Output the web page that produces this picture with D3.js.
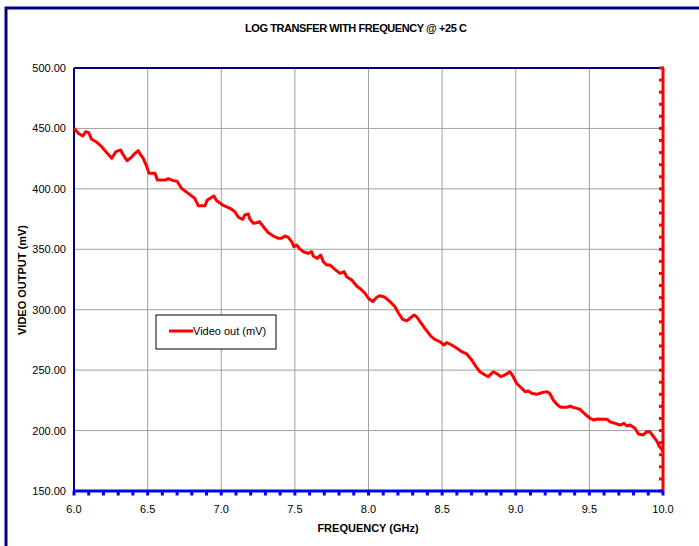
<!DOCTYPE html>
<html>
<head>
<meta charset="utf-8">
<script src="https://cdn.jsdelivr.net/npm/d3@7"></script>
<style>
  body { margin: 0; background: #fff; }
  svg text { font-family: "Liberation Sans", Arial, sans-serif; }
</style>
</head>
<body>
<div id="chart"></div>
<script>
// values
var freqGHz = [6.000, 6.029, 6.059, 6.080, 6.100, 6.120, 6.150, 6.188, 6.222, 6.256,
    6.285, 6.317, 6.335, 6.360, 6.390, 6.414, 6.437, 6.453, 6.470, 6.490,
    6.510, 6.550, 6.566, 6.620, 6.640, 6.674, 6.700, 6.730, 6.776, 6.820,
    6.844, 6.890, 6.905, 6.950, 6.969, 7.010, 7.060, 7.093, 7.116, 7.146,
    7.160, 7.184, 7.195, 7.218, 7.240, 7.260, 7.286, 7.320, 7.354, 7.388,
    7.410, 7.433, 7.455, 7.478, 7.494, 7.512, 7.530, 7.557, 7.590, 7.614,
    7.625, 7.652, 7.675, 7.693, 7.716, 7.738, 7.772, 7.806, 7.834, 7.852,
    7.886, 7.920, 7.954, 7.976, 7.999, 8.029, 8.056, 8.078, 8.112, 8.146,
    8.180, 8.202, 8.232, 8.260, 8.282, 8.310, 8.327, 8.350, 8.377, 8.400,
    8.422, 8.450, 8.486, 8.513, 8.531, 8.565, 8.600, 8.633, 8.667, 8.701,
    8.730, 8.757, 8.791, 8.814, 8.848, 8.875, 8.898, 8.927, 8.960, 8.980,
    9.006, 9.040, 9.063, 9.085, 9.108, 9.142, 9.176, 9.210, 9.230, 9.255,
    9.277, 9.305, 9.345, 9.370, 9.390, 9.414, 9.436, 9.470, 9.504, 9.527,
    9.555, 9.595, 9.622, 9.640, 9.674, 9.708, 9.735, 9.754, 9.776, 9.810,
    9.833, 9.867, 9.890, 9.910, 9.935, 9.958, 9.976, 9.992, 10.000];
var videoOut = [450.1, 446.0, 443.7, 447.3, 446.5, 441.0, 439.0, 434.9, 430.0, 425.3,
    430.8, 432.2, 428.0, 423.3, 426.1, 429.4, 431.6, 428.0, 425.3, 419.7,
    412.9, 412.9, 407.3, 407.3, 408.4, 406.8, 406.3, 400.5, 396.3, 392.2,
    386.1, 386.1, 390.8, 394.1, 390.2, 386.6, 383.9, 381.1, 376.5, 374.8,
    378.4, 379.2, 374.8, 371.5, 372.0, 372.8, 368.7, 363.7, 361.0, 359.1,
    359.1, 361.0, 359.9, 356.3, 352.1, 353.5, 350.8, 348.0, 346.7, 348.0,
    344.4, 342.5, 345.3, 339.8, 337.0, 337.0, 333.4, 330.1, 331.5, 327.3,
    324.6, 319.6, 316.3, 313.6, 309.5, 306.7, 310.3, 311.6, 310.3, 306.7,
    302.5, 297.5, 292.0, 290.9, 292.9, 295.6, 294.2, 290.1, 285.5, 281.8,
    278.3, 275.5, 273.5, 270.8, 272.7, 270.8, 268.1, 265.3, 263.4, 258.4,
    252.9, 248.7, 246.0, 244.6, 248.7, 246.8, 244.6, 246.0, 248.7, 245.2,
    239.1, 235.0, 232.2, 232.7, 230.8, 230.0, 231.3, 232.2, 230.8, 225.3,
    222.0, 219.2, 219.2, 220.3, 219.2, 218.4, 217.6, 213.7, 210.2, 208.8,
    209.6, 209.3, 209.3, 207.3, 206.0, 204.6, 206.0, 203.8, 204.6, 201.9,
    197.2, 196.4, 199.1, 199.1, 195.1, 191.2, 186.7, 184.5, 182.3];

var xTicks = [6.0, 6.5, 7.0, 7.5, 8.0, 8.5, 9.0, 9.5, 10.0];
var yTicks = [150, 200, 250, 300, 350, 400, 450, 500];

var chartTitle = "LOG TRANSFER WITH FREQUENCY @ +25 C";
var xTitle = "FREQUENCY (GHz)";
var yTitle = "VIDEO OUTPUT (mV)";
var seriesName = "Video out (mV)";

var margin = { top: 68, right: 36, bottom: 55, left: 74 };
var totalW = 699, totalH = 546;
var width = totalW - margin.left - margin.right;
var height = totalH - margin.top - margin.bottom;

var svg = d3.select("#chart").append("svg")
    .attr("width", totalW)
    .attr("height", totalH);

// outer frame (runs off the right and bottom of the picture)
svg.append("rect")
    .attr("x", 6).attr("y", 8)
    .attr("width", 900).attr("height", 800)
    .attr("fill", "none")
    .attr("stroke", "#000080")
    .attr("stroke-width", 3);

svg.append("text")
    .attr("x", 356).attr("y", 32)
    .attr("text-anchor", "middle")
    .attr("font-size", "11px")
    .attr("font-weight", "bold")
    .attr("textLength", 222)
    .text(chartTitle);

var g = svg.append("g")
    .attr("transform", "translate(" + margin.left + "," + margin.top + ")");

var x = d3.scaleLinear().domain([6, 10]).range([0, width]);
var y = d3.scaleLinear().domain([150, 500]).range([height, 0]);

// grid
g.append("g").selectAll("line")
    .data(xTicks.slice(1, -1))
    .enter().append("line")
    .attr("x1", d => x(d)).attr("x2", d => x(d))
    .attr("y1", 0).attr("y2", height)
    .attr("stroke", "#a0a0a0").attr("stroke-width", 1);

g.append("g").selectAll("line")
    .data(yTicks.slice(1, -1))
    .enter().append("line")
    .attr("x1", 0).attr("x2", width)
    .attr("y1", d => y(d)).attr("y2", d => y(d))
    .attr("stroke", "#a0a0a0").attr("stroke-width", 1);

// top and left plot border
g.append("line").attr("x1", 0).attr("x2", width).attr("y1", 0).attr("y2", 0)
    .attr("stroke", "#000080").attr("stroke-width", 2);
g.append("line").attr("x1", 0).attr("x2", 0).attr("y1", 0).attr("y2", height)
    .attr("stroke", "#000080").attr("stroke-width", 2);

// data line
var line = d3.line()
    .x((d, i) => x(freqGHz[i]))
    .y(d => y(d));

g.append("path")
    .datum(videoOut)
    .attr("d", line)
    .attr("fill", "none")
    .attr("stroke", "#ff0000")
    .attr("stroke-width", 3)
    .attr("stroke-linejoin", "round");

// red right axis with small square markers every 10 mV
var rightMarks = d3.range(150, 501, 10);
g.append("line").attr("x1", width).attr("x2", width).attr("y1", 0).attr("y2", height)
    .attr("stroke", "#ff0000").attr("stroke-width", 3);
g.append("g").selectAll("rect")
    .data(rightMarks)
    .enter().append("rect")
    .attr("x", width - 4).attr("y", d => y(d) - 1.5)
    .attr("width", 5).attr("height", 3)
    .attr("fill", "#ff0000");

// blue bottom axis with small square markers every 0.1 GHz
var bottomMarks = d3.range(0, 41).map(i => 6 + i * 0.1);
g.append("line").attr("x1", 0).attr("x2", width).attr("y1", height).attr("y2", height)
    .attr("stroke", "#0000ff").attr("stroke-width", 3);
g.append("g").selectAll("rect")
    .data(bottomMarks)
    .enter().append("rect")
    .attr("x", d => x(d) - 1.5).attr("y", height)
    .attr("width", 3).attr("height", 4.5)
    .attr("fill", "#0000ff");

// tick labels
g.append("g").selectAll("text")
    .data(yTicks)
    .enter().append("text")
    .attr("x", -8).attr("y", d => y(d) + 4)
    .attr("text-anchor", "end")
    .attr("font-size", "11px")
    .text(d => d.toFixed(2));

g.append("g").selectAll("text")
    .data(xTicks)
    .enter().append("text")
    .attr("x", d => x(d)).attr("y", height + 22)
    .attr("text-anchor", "middle")
    .attr("font-size", "11px")
    .text(d => d.toFixed(1));

// axis titles
svg.append("text")
    .attr("x", 368).attr("y", 532)
    .attr("text-anchor", "middle")
    .attr("font-size", "11px")
    .attr("font-weight", "bold")
    .text(xTitle);

svg.append("text")
    .attr("transform", "translate(26,280) rotate(-90)")
    .attr("text-anchor", "middle")
    .attr("font-size", "11px")
    .attr("font-weight", "bold")
    .text(yTitle);

// legend
var legend = svg.append("g").attr("transform", "translate(156,315)");
legend.append("rect")
    .attr("width", 120).attr("height", 34)
    .attr("fill", "#fff")
    .attr("stroke", "#000").attr("stroke-width", 1);
legend.append("line")
    .attr("x1", 13).attr("x2", 37).attr("y1", 16).attr("y2", 16)
    .attr("stroke", "#ff0000").attr("stroke-width", 3);
legend.append("text")
    .attr("x", 37).attr("y", 20)
    .attr("font-size", "11px")
    .text(seriesName);
</script>
</body>
</html>
